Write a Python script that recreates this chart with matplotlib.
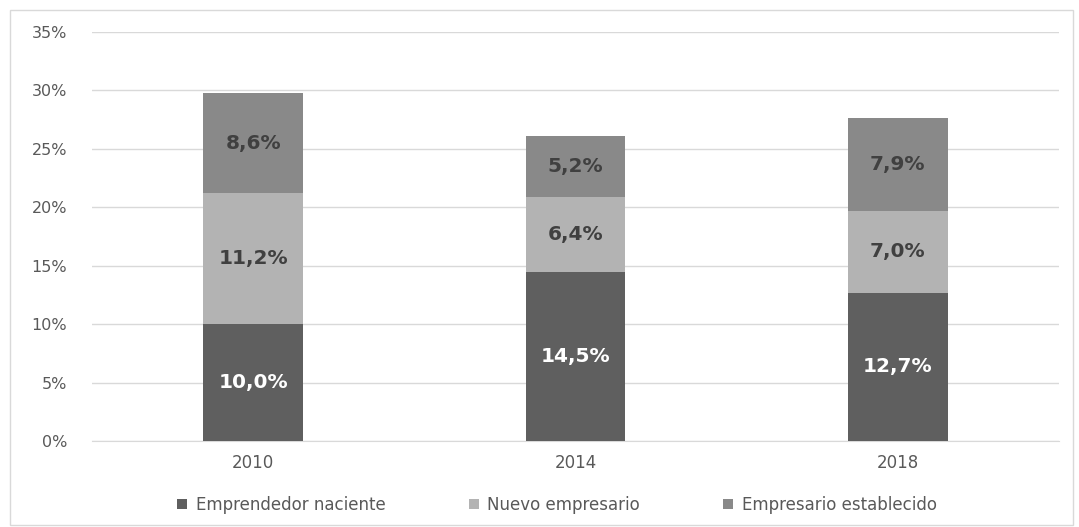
import matplotlib.pyplot as plt
from matplotlib.patches import Rectangle

years = ['2010', '2014', '2018']
naciente = [10.0, 14.5, 12.7]
nuevo = [11.2, 6.4, 7.0]
establecido = [8.6, 5.2, 7.9]
series_names = ['Emprendedor naciente', 'Nuevo empresario', 'Empresario establecido']
colors = ['#5f5f5f', '#b3b3b3', '#898989']
text_colors = ['white', '#404040', '#404040']

fig = plt.figure(figsize=(10.79, 5.27), dpi=100)
ax = fig.add_axes([92 / 1079, 1 - 441 / 527, (1059 - 92) / 1079, (441 - 32) / 527])

x = range(len(years))
bottom = [0, 0, 0]
for vals, name, c, tc in zip([naciente, nuevo, establecido], series_names, colors, text_colors):
    bars = ax.bar(x, vals, 0.31, bottom=bottom, color=c, label=name, zorder=3)
    for b, v, bt in zip(bars, vals, bottom):
        ax.text(b.get_x() + b.get_width() / 2, bt + v / 2, f'{v:.1f}%'.replace('.', ','),
                ha='center', va='center', color=tc, fontsize=14.5, fontweight='bold', zorder=4)
    bottom = [a + b for a, b in zip(bottom, vals)]

ax.set_xlim(-0.5, 2.5)
ax.set_ylim(0, 35)
ax.set_yticks(range(0, 36, 5))
ax.set_yticklabels([f'{t}%' for t in range(0, 36, 5)])
ax.set_xticks(list(x))
ax.set_xticklabels(years)
ax.tick_params(length=0, colors='#595959')
ax.tick_params(axis='x', labelsize=12, pad=9)
ax.tick_params(axis='y', labelsize=11.5, pad=18)
ax.grid(axis='y', color='#d9d9d9', linewidth=1, zorder=0)
for s in ['top', 'right', 'left']:
    ax.spines[s].set_visible(False)
ax.spines['bottom'].set_color('#d9d9d9')

fig.legend(loc='center', bbox_to_anchor=(557 / 1079, 1 - 505 / 527), ncol=3, frameon=False,
           fontsize=12, labelcolor='#595959', handlelength=0.6, handleheight=0.6,
           columnspacing=5.0, handletextpad=0.5)

fig.patches.append(Rectangle((10 / 1079, 2 / 527), 1063 / 1079, 515 / 527, transform=fig.transFigure,
                             fill=False, edgecolor='#d9d9d9', linewidth=1))

fig.savefig('out.png', dpi=100)
